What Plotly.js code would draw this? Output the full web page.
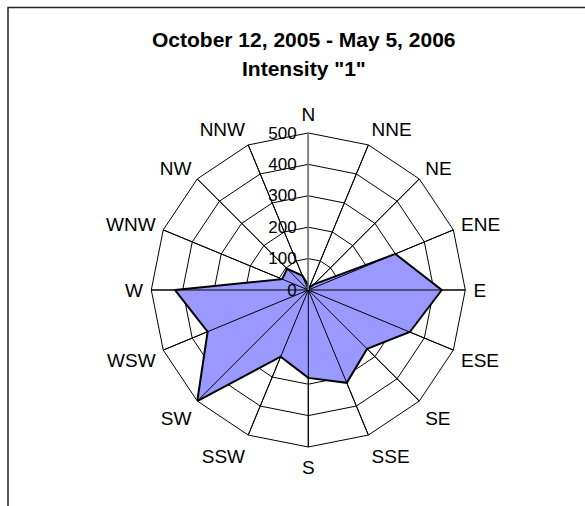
<!DOCTYPE html>
<html>
<head>
<meta charset="utf-8">
<script src="https://cdn.plot.ly/plotly-3.0.1.min.js"></script>
<style>html,body{margin:0;padding:0;background:#fff;}#chart{width:585px;height:506px;}</style>
</head>
<body>
<div id="chart"></div>
<script>
// Wind directions (categories)
const directions = ["N","NNE","NE","ENE","E","ESE","SE","SSE","S","SSW","SW","WSW","W","WNW","NW","NNW"];
// Counts per direction, Intensity "1"
const counts = [15, 10, 25, 300, 425, 350, 265, 320, 280, 230, 500, 347, 425, 90, 95, 50];
// Radial tick values
const radialTicks = [0, 100, 200, 300, 400, 500];
const radialMax = 500;
const titleLine1 = "October 12, 2005 - May 5, 2006";
const titleLine2 = "Intensity \"1\"";

// closed polygon
const thetaClosed = directions.concat([directions[0]]);
const rClosed = counts.concat([counts[0]]);

// spokes drawn above the fill (Excel style)
const spokeTheta = [], spokeR = [];
directions.forEach(d => { spokeTheta.push(d, d, null); spokeR.push(0, radialMax, null); });

const data = [
  {
    type: "scatterpolar",
    r: rClosed,
    theta: thetaClosed,
    mode: "lines",
    fill: "toself",
    fillcolor: "#9999FF",
    line: {color: "#000000", width: 2},
    hoverinfo: "r+theta"
  },
  {
    type: "scatterpolar",
    r: spokeR,
    theta: spokeTheta,
    mode: "lines",
    line: {color: "#000000", width: 1},
    hoverinfo: "skip",
    connectgaps: false
  }
];

const layout = {
  width: 585,
  height: 506,
  margin: {l: 0, r: 0, t: 0, b: 0},
  paper_bgcolor: "#ffffff",
  showlegend: false,
  font: {family: "Liberation Sans, Arial, sans-serif", color: "#000"},
  polar: {
    domain: {x: [0.2586, 0.7954], y: [0.1166, 0.7372]},
    gridshape: "linear",
    bgcolor: "rgba(0,0,0,0)",
    angularaxis: {
      type: "category",
      categoryarray: directions,
      direction: "clockwise",
      rotation: 90,
      showline: true,
      linecolor: "#000",
      linewidth: 1,
      showgrid: true,
      gridcolor: "#000",
      gridwidth: 1,
      ticks: "outside",
      ticklen: 4,
      tickcolor: "rgba(0,0,0,0)",
      tickfont: {size: 19, family: "Liberation Sans, Arial, sans-serif", color: "#000"}
    },
    radialaxis: {
      range: [0, radialMax],
      tickvals: radialTicks,
      ticktext: radialTicks.map(String),
      angle: 90,
      tickangle: 90,
      side: "counterclockwise",
      showline: true,
      linecolor: "#808080",
      linewidth: 1.5,
      showgrid: true,
      gridcolor: "#000",
      gridwidth: 1,
      ticks: "outside",
      ticklen: 5,
      tickcolor: "rgba(0,0,0,0)",
      layer: "above traces",
      tickfont: {size: 17, family: "Liberation Sans, Arial, sans-serif", color: "#000"}
    }
  },
  annotations: [
    {text: "<b>" + titleLine1 + "</b>", xref: "paper", yref: "paper", x: 304/585, y: 1 - 39/506,
     xanchor: "center", yanchor: "middle", showarrow: false, font: {size: 21, color: "#000"}},
    {text: "<b>" + titleLine2 + "</b>", xref: "paper", yref: "paper", x: 304/585, y: 1 - 68/506,
     xanchor: "center", yanchor: "middle", showarrow: false, font: {size: 21, color: "#000"}}
  ],
  shapes: [
    {type: "rect", xref: "paper", yref: "paper", x0: 8/585, x1: 1.1, y0: -0.1, y1: 1 - 7.5/506,
     line: {color: "#222", width: 1.5}, fillcolor: "rgba(0,0,0,0)", layer: "below"}
  ]
};

Plotly.newPlot("chart", data, layout, {displayModeBar: false, staticPlot: true});
</script>
</body>
</html>
